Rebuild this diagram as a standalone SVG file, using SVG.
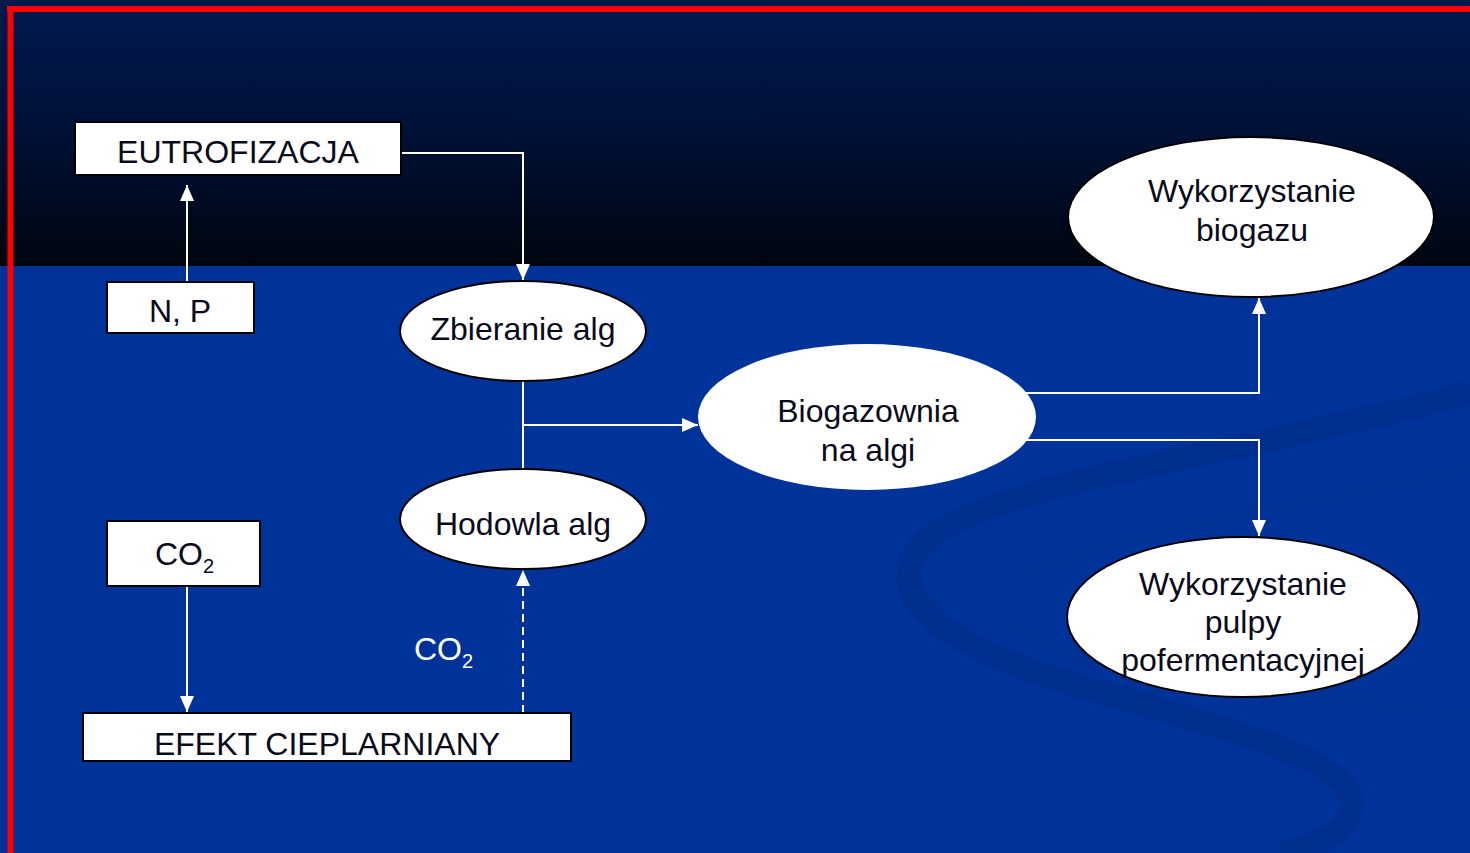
<svg xmlns="http://www.w3.org/2000/svg" width="1470" height="853" viewBox="0 0 1470 853">
  <defs>
    <linearGradient id="topbg" x1="0" y1="0" x2="0" y2="1">
      <stop offset="0" stop-color="#001a4e"/>
      <stop offset="0.45" stop-color="#00123a"/>
      <stop offset="1" stop-color="#00050f"/>
    </linearGradient>
    <marker id="ah" viewBox="0 0 16 14" refX="16" refY="7" markerWidth="16" markerHeight="14" orient="auto" markerUnits="userSpaceOnUse">
      <path d="M0,0 L16,7 L0,14 z" fill="#ffffff"/>
    </marker>
    <style>
      .box { fill: #ffffff; stroke: #000000; stroke-width: 2; }
      .ell { fill: #ffffff; stroke: #000000; stroke-width: 2; }
      .ell-nb { fill: #ffffff; stroke: none; }
      .lbl { font-family: "Liberation Sans", Arial, sans-serif; font-size: 32px; fill: #0a0a1a; text-anchor: middle; }
      .wlbl { font-family: "Liberation Sans", Arial, sans-serif; font-size: 32px; fill: #ffffff; }
      .conn { fill: none; stroke: #ffffff; stroke-width: 2; }
      .dash { stroke-dasharray: 8 5; }
    </style>
  </defs>

  <!-- background -->
  <rect x="0" y="0" width="1470" height="266" fill="url(#topbg)"/>
  <rect x="0" y="266" width="1470" height="587" fill="#003399"/>
  <!-- swirl decoration -->
  <path d="M1470 392 C1260 450 1020 480 940 530 C880 570 900 630 1060 680 C1240 735 1370 760 1350 815 C1340 838 1310 848 1280 853" fill="none" stroke="#002a85" stroke-width="24" opacity="0.45"/>
  <path d="M1470 470 C1330 500 1120 530 1030 575 C980 600 1000 640 1110 665 C1250 695 1400 700 1470 720" fill="none" stroke="#002f8e" stroke-width="12" opacity="0.4"/>
  <!-- red frame -->
  <line x1="7" y1="9" x2="1470" y2="9" stroke="#ff0000" stroke-width="6"/>
  <line x1="10.5" y1="6" x2="10.5" y2="853" stroke="#ff0000" stroke-width="6"/>

  <g id="connectors">
    <path class="conn" d="M187 281 L187 185" marker-end="url(#ah)"/>
    <path class="conn" d="M401 153 L523 153 L523 280" marker-end="url(#ah)"/>
    <path class="conn" d="M523 381 L523 470"/>
    <path class="conn" d="M523 425 L698 425" marker-end="url(#ah)"/>
    <path class="conn" d="M187 587 L187 712" marker-end="url(#ah)"/>
    <path class="conn dash" d="M523 713 L523 570" marker-end="url(#ah)"/>
    <path class="conn" d="M1020 393 L1259 393 L1259 298" marker-end="url(#ah)"/>
    <path class="conn" d="M1020 440 L1259 440 L1259 536" marker-end="url(#ah)"/>
  </g>

  <g id="eutrofizacja">
    <rect class="box" x="75" y="122" width="326" height="53"/>
    <text class="lbl" x="238" y="163">EUTROFIZACJA</text>
  </g>

  <g id="np">
    <rect class="box" x="107" y="282" width="147" height="51"/>
    <text class="lbl" x="180" y="322">N, P</text>
  </g>

  <g id="co2-box">
    <rect class="box" x="107" y="521" width="153" height="65"/>
    <text class="lbl" x="155" y="565" style="text-anchor:start">CO<tspan dy="8" font-size="20">2</tspan></text>
  </g>

  <g id="efekt">
    <rect class="box" x="83" y="713" width="488" height="48"/>
    <text class="lbl" x="327" y="755">EFEKT CIEPLARNIANY</text>
  </g>

  <g id="zbieranie">
    <ellipse class="ell" cx="523" cy="331" rx="123" ry="50"/>
    <text class="lbl" x="523" y="340">Zbieranie alg</text>
  </g>

  <g id="hodowla">
    <ellipse class="ell" cx="523" cy="519" rx="123" ry="50"/>
    <text class="lbl" x="523" y="535">Hodowla alg</text>
  </g>

  <g id="co2-label">
    <text class="wlbl" x="414" y="660">CO<tspan dy="8" font-size="20">2</tspan></text>
  </g>

  <g id="biogazownia">
    <ellipse class="ell-nb" cx="867" cy="417" rx="169" ry="73"/>
    <text class="lbl" x="868" y="422">Biogazownia</text>
    <text class="lbl" x="868" y="461">na algi</text>
  </g>

  <g id="biogaz">
    <ellipse class="ell" cx="1251" cy="217" rx="183" ry="80"/>
    <text class="lbl" x="1252" y="202">Wykorzystanie</text>
    <text class="lbl" x="1252" y="241">biogazu</text>
  </g>

  <g id="pulpa">
    <ellipse class="ell" cx="1243" cy="617" rx="176" ry="80"/>
    <text class="lbl" x="1243" y="595">Wykorzystanie</text>
    <text class="lbl" x="1243" y="633">pulpy</text>
    <text class="lbl" x="1243" y="671">pofermentacyjnej</text>
  </g>
</svg>
